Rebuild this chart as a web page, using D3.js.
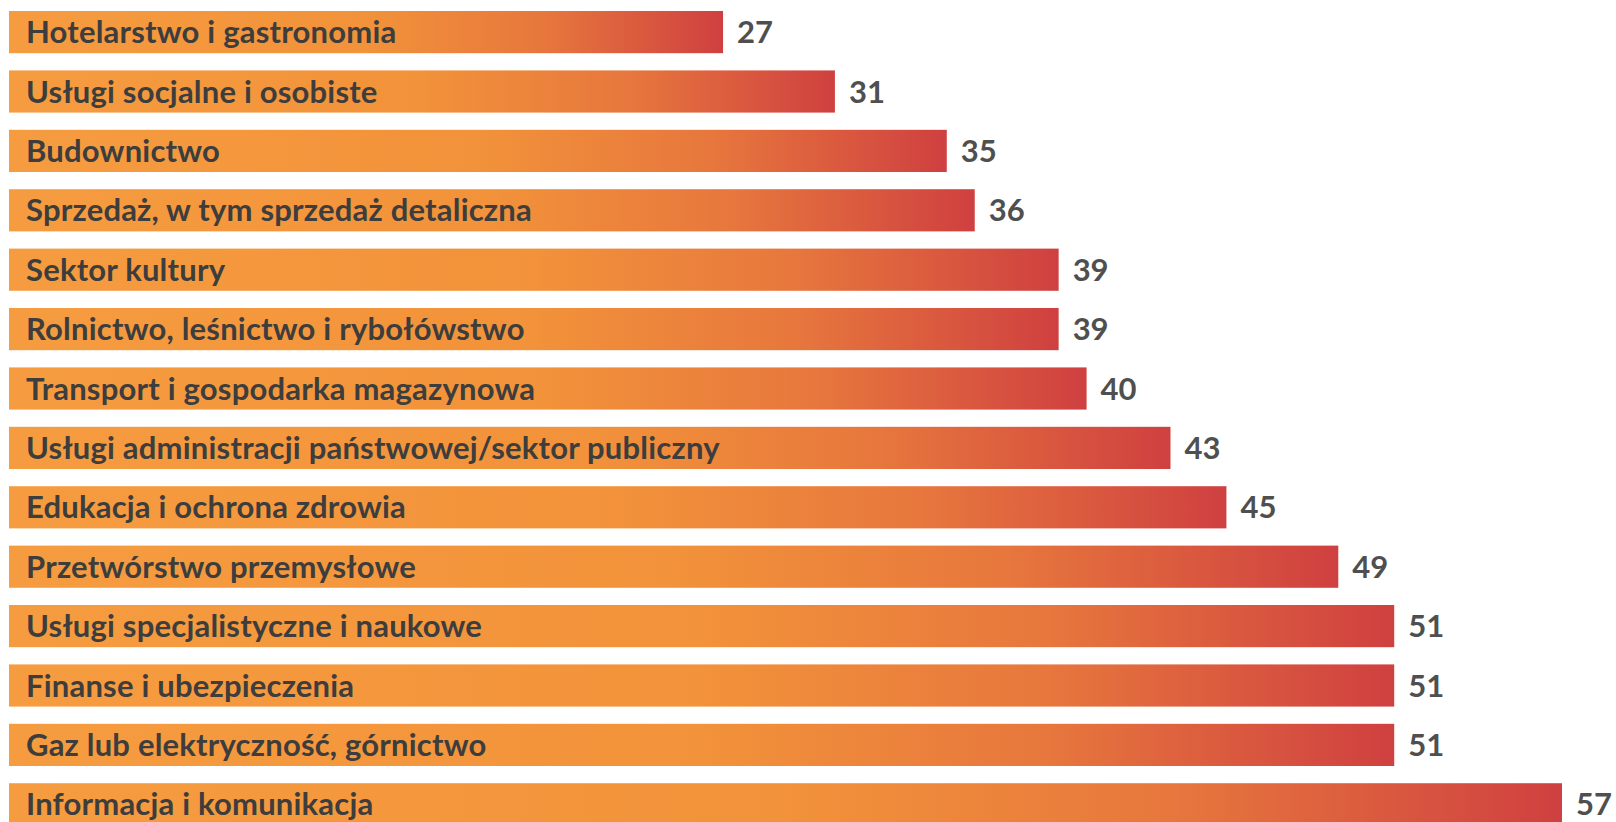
<!DOCTYPE html>
<html>
<head>
<meta charset="utf-8">
<script src="https://cdn.jsdelivr.net/npm/d3@7"></script>
<style>
    html, body { margin: 0; padding: 0; background: #ffffff; overflow: hidden; }
    svg { display: block; }
    .label { font-family: Lato, "Open Sans", sans-serif; font-weight: bold; }
    .cat { fill: #3d3d3d; }
    .val { fill: #4f4f4f; }
</style>
</head>
<body>
<svg id="chart" width="1616" height="822"></svg>
<script>
    // Categories (top to bottom) and values
    const categories = [
        'Hotelarstwo i gastronomia',
        'Usługi socjalne i osobiste',
        'Budownictwo',
        'Sprzedaż, w tym sprzedaż detaliczna',
        'Sektor kultury',
        'Rolnictwo, leśnictwo i rybołówstwo',
        'Transport i gospodarka magazynowa',
        'Usługi administracji państwowej/sektor publiczny',
        'Edukacja i ochrona zdrowia',
        'Przetwórstwo przemysłowe',
        'Usługi specjalistyczne i naukowe',
        'Finanse i ubezpieczenia',
        'Gaz lub elektryczność, górnictwo',
        'Informacja i komunikacja'
    ];
    const values = [27, 31, 35, 36, 39, 39, 40, 43, 45, 49, 51, 51, 51, 57];

    const data = categories.map((c, i) => ({ name: c, value: values[i] }));

    const barLeft = 9;

    const chart = d3.select('#chart');

    // Scales
    const x = d3.scaleLinear()
                .domain([0, d3.max(values)])
                .range([-32, 1562]);
    const y = d3.scaleBand()
                .domain(categories)
                .range([2.4, 2.4 + 14 * 59.4])
                .paddingInner(0.29)
                .paddingOuter(0.145);

    // Orange -> red gradient, applied per bar (bounding box units)
    const grad = chart.append('defs').append('linearGradient')
                    .attr('id', 'barGrad')
                    .attr('x1', '0%').attr('x2', '100%')
                    .attr('y1', '0%').attr('y2', '0%');
    grad.append('stop').attr('offset', '0%').attr('stop-color', '#f69c40');
    grad.append('stop').attr('offset', '50%').attr('stop-color', '#f2923a');
    grad.append('stop').attr('offset', '75%').attr('stop-color', '#e7773d');
    grad.append('stop').attr('offset', '100%').attr('stop-color', '#cf4040');

    // Bars
    chart.selectAll('rect.bar')
        .data(data)
        .enter()
        .append('rect')
            .attr('class', 'bar')
            .attr('x', barLeft)
            .attr('y', d => y(d.name))
            .attr('width', d => x(d.value) - barLeft)
            .attr('height', y.bandwidth())
            .attr('fill', 'url(#barGrad)');

    // Category labels inside bars
    chart.selectAll('text.cat')
        .data(data)
        .enter()
        .append('text')
            .attr('class', 'label cat')
            .attr('x', barLeft + 17)
            .attr('y', d => y(d.name) + y.bandwidth() / 2)
            .attr('dy', '0.36em')
            .style('font-size', '31px')
            .style('letter-spacing', '0.2px')
            .text(d => d.name);

    // Value labels
    chart.selectAll('text.val')
        .data(data)
        .enter()
        .append('text')
            .attr('class', 'label val')
            .attr('x', d => x(d.value) + 14)
            .attr('y', d => y(d.name) + y.bandwidth() / 2)
            .attr('dy', '0.36em')
            .style('font-size', '31px')
            .text(d => d.value);
</script>
</body>
</html>
